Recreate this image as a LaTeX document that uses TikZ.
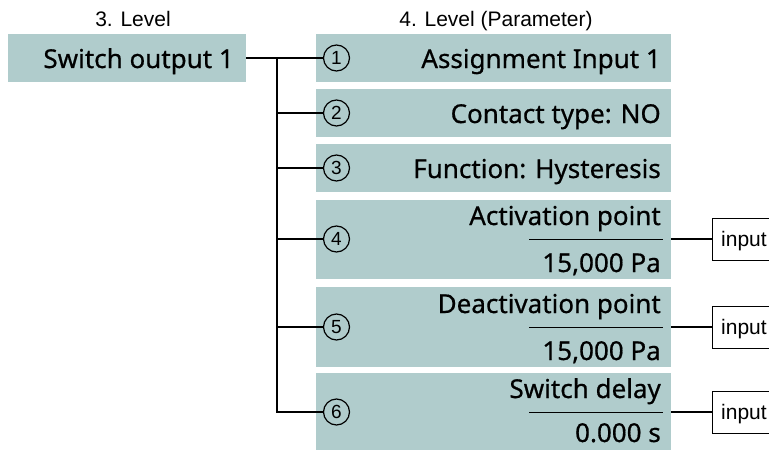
\documentclass[tikz,border=0pt]{standalone}
\usepackage{fontspec}
\setmainfont{Noto Sans}
\newfontfamily\medfont{Noto Sans}[FakeBold=0.6]
\newfontfamily\hdfont{Liberation Sans}
\definecolor{boxfill}{RGB}{176,204,204}
\tikzset{
  pbox/.style={fill=boxfill, draw=none, inner sep=0pt, anchor=north west},
  ptext/.style={inner sep=0pt, anchor=base east, font=\medfont\fontsize{26}{30}\selectfont},
  hd/.style={inner sep=0pt, anchor=base, font=\hdfont\fontsize{21}{24}\selectfont},
  num/.style={circle, draw, line width=1.2pt, minimum size=26pt, inner sep=0pt, font=\hdfont\fontsize{19}{21}\selectfont},
  conn/.style={line width=2pt},
  sep/.style={line width=0.9pt},
  inbox/.style={draw, line width=1pt, anchor=west, minimum width=80pt, minimum height=42pt, inner sep=0pt},
  inlbl/.style={inner sep=0pt, anchor=base west, font=\hdfont\fontsize{21}{24}\selectfont}
}
\begin{document}
\begin{tikzpicture}[x=1pt,y=-1pt]
\useasboundingbox (0,0) rectangle (769,450);
% headers
\node[hd] (h3) at (133,26) {3. Level};
\node[hd] (h4) at (496,26) {4. Level (Parameter)};
% left box
\node[pbox, minimum width=238pt, minimum height=48pt] (swb) at (8,34) {};
\node[ptext] (swt) at (234,68) {Switch output 1};
% parameter boxes
\node[pbox, minimum width=355pt, minimum height=48pt] (b1) at (316,34) {};
\node[pbox, minimum width=355pt, minimum height=48pt] (b2) at (316,89) {};
\node[pbox, minimum width=355pt, minimum height=48pt] (b3) at (316,144) {};
\node[pbox, minimum width=355pt, minimum height=79pt] (b4) at (316,200) {};
\node[pbox, minimum width=355pt, minimum height=80pt] (b5) at (316,287) {};
\node[pbox, minimum width=355pt, minimum height=77pt] (b6) at (316,373) {};
% texts
\node[ptext] (t1) at (661,68) {Assignment Input 1};
\node[ptext] (t2) at (661,123) {Contact type: NO};
\node[ptext] (t3) at (661,178) {Function: Hysteresis};
\node[ptext] (t4a) at (661,225) {Activation point};
\node[ptext] (t4b) at (661,272) {15,000 Pa};
\node[ptext] (t5a) at (661,313) {Deactivation point};
\node[ptext] (t5b) at (661,360) {15,000 Pa};
\node[ptext] (t6a) at (661,398) {Switch delay};
\node[ptext] (t6b) at (661,442) {0.000 s};
% separators
\coordinate (s4l) at (529,239); \coordinate (s4r) at (663,239);
\coordinate (s5l) at (529,327); \coordinate (s5r) at (663,327);
\coordinate (s6l) at (529,412); \coordinate (s6r) at (663,412);
\draw[sep] (s4l) -- (s4r);
\draw[sep] (s5l) -- (s5r);
\draw[sep] (s6l) -- (s6r);
% number circles
\node[num] (c1) at (336.5,58) {1};
\node[num] (c2) at (336.5,113) {2};
\node[num] (c3) at (336.5,168) {3};
\node[num] (c4) at (336.5,239) {4};
\node[num] (c5) at (336.5,327) {5};
\node[num] (c6) at (336.5,412) {6};
% connectors
\coordinate (j) at (277,58);
\draw[conn] (swb.east |- c1) -- (c1.west);
\draw[conn] (j) |- (c6.west);
\draw[conn] (j |- c2) -- (c2.west);
\draw[conn] (j |- c3) -- (c3.west);
\draw[conn] (j |- c4) -- (c4.west);
\draw[conn] (j |- c5) -- (c5.west);
% input boxes
\node[inbox] (in4) at (712,239) {};
\node[inbox] (in5) at (712,327) {};
\node[inbox] (in6) at (712,412) {};
\node[inlbl] (l4) at (721,246) {input};
\node[inlbl] (l5) at (721,334) {input};
\node[inlbl] (l6) at (721,419) {input};
\draw[conn] (b4.east |- in4) -- (in4.west);
\draw[conn] (b5.east |- in5) -- (in5.west);
\draw[conn] (b6.east |- in6) -- (in6.west);
\end{tikzpicture}
\end{document}
